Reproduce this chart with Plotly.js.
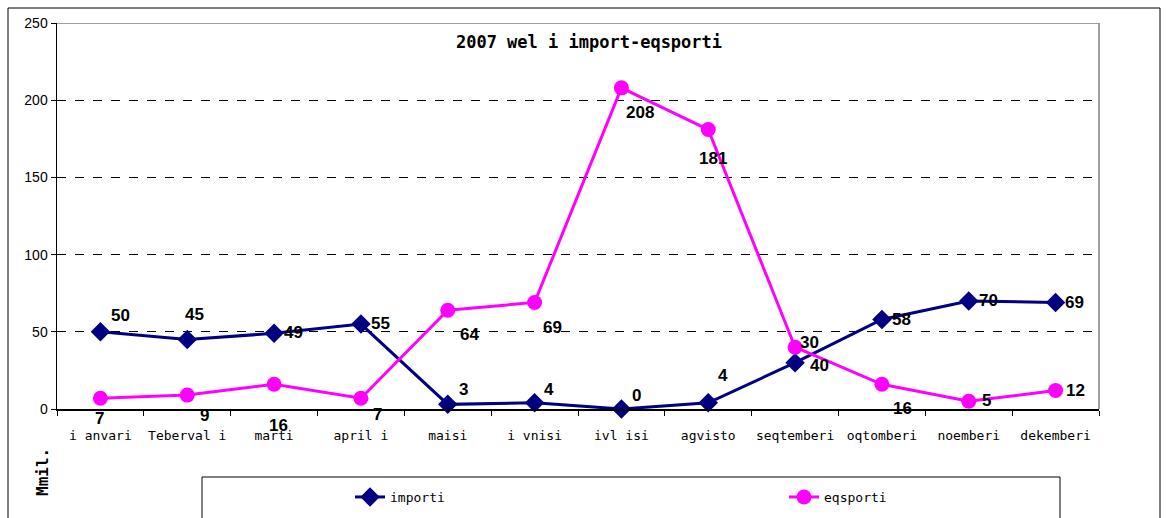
<!DOCTYPE html>
<html>
<head>
<meta charset="utf-8">
<script src="https://cdn.plot.ly/plotly-3.0.1.min.js"></script>
<style>html,body{margin:0;padding:0;background:#fff;}#chart{width:1168px;height:518px;}</style>
</head>
<body>
<div id="chart"></div>
<script>
const months = ['i anvari','Teberval i','marti','april i','maisi','i vnisi','ivl isi','agvisto','seqtemberi','oqtomberi','noemberi','dekemberi'];
const importi = [50,45,49,55,3,4,0,4,30,58,70,69];
const eqsporti = [7,9,16,7,64,69,208,181,40,16,5,12];
const yTicks = [0,50,100,150,200,250];
const titleText = '2007 wel i import-eqsporti';
const yTitle = 'Mmil.';

// label offsets in pixels (style only): [dx, dy] with dy positive = downward
const importOff = [[20,-16],[7,-25],[19,-1],[20,-1],[16,-15],[14,-13],[15,-14],[15,-27],[14,-20],[20,0],[20,0],[19,0]];
const exportOff = [[-1,20],[17,20],[4,41],[17,16],[22,24],[18,25],[19,25],[5,29],[24,18],[21,24],[18,-1],[20,0]];

const labelFont = {family:'Liberation Sans Narrow, Arial Narrow, Liberation Sans, Arial', size:17, color:'#000', weight:'bold'};
const mono = 'DejaVu Sans Mono, monospace';

const traces = [
  {x: months, y: importi, name: 'importi', type:'scatter', mode:'lines+markers', legend:'legend',
   line:{color:'#000080', width:3}, marker:{symbol:'diamond', size:15, color:'#000080'}, cliponaxis:false},
  {x: months, y: eqsporti, name: 'eqsporti', type:'scatter', mode:'lines+markers', legend:'legend2',
   line:{color:'#FF00FF', width:3}, marker:{symbol:'circle', size:15, color:'#FF00FF'}, cliponaxis:false}
];

const L = 57, R = 1099, T = 23, B = 409;
const px = v => (v - L) / (R - L);
const py = v => (B - v) / (B - T);

function labels(vals, off) {
  return vals.map((v, i) => ({
    x: months[i], y: v, xref:'x', yref:'y', text: String(v), showarrow:false,
    xshift: off[i][0], yshift: -off[i][1], xanchor:'center', yanchor:'middle', font: labelFont
  }));
}

const legendBase = {orientation:'h', xanchor:'left', y:py(497), yanchor:'middle',
  bgcolor:'rgba(0,0,0,0)', borderwidth:0, font:{family:mono, size:13, color:'#000'}};

const layout = {
  width:1168, height:518,
  margin:{l:L, r:1168-R, t:T, b:518-B, autoexpand:false},
  paper_bgcolor:'#fff', plot_bgcolor:'#fff',
  showlegend:true,
  title:{text:titleText, font:{family:mono, size:17, color:'#000', weight:'bold'},
         x:px(589), xref:'paper', xanchor:'center', y:1-42/518, yanchor:'middle'},
  xaxis:{type:'category', tickson:'boundaries', ticks:'outside', ticklen:5, tickcolor:'#000',
         showline:true, linecolor:'#000', linewidth:1.5, showgrid:false, automargin:false,
         tickangle:0, tickfont:{family:mono, size:13, color:'#000'}, ticklabelstandoff:14,
         range:[-0.5, 11.5], fixedrange:true},
  yaxis:{range:[0,250], tickvals:yTicks, ticks:'outside', ticklen:5, tickcolor:'#000', automargin:false,
         showline:true, linecolor:'#000', linewidth:1.5, zeroline:false,
         showgrid:true, gridcolor:'#000', gridwidth:1, griddash:'dash',
         tickfont:{family:'Liberation Sans, Arial', size:14, color:'#000'}, fixedrange:true},
  legend:Object.assign({x:px(350)}, legendBase),
  legend2:Object.assign({x:px(784)}, legendBase),
  shapes:[
    {type:'line', xref:'paper', yref:'y', x0:0, x1:1, y0:250, y1:250, line:{color:'#808080', width:1.5}, layer:'above'},
    {type:'line', xref:'paper', yref:'paper', x0:1, x1:1, y0:0, y1:1, line:{color:'#808080', width:1.5}, layer:'above'},
    {type:'rect', xref:'paper', yref:'paper', x0:px(202), x1:px(1060), y0:py(477), y1:py(530), line:{color:'#000', width:1}, fillcolor:'rgba(0,0,0,0)'},
    {type:'rect', xref:'paper', yref:'paper', x0:px(8), x1:px(1160), y0:py(8), y1:py(540), line:{color:'#000', width:1}, fillcolor:'rgba(0,0,0,0)'}
  ],
  annotations:[
    {text:yTitle, xref:'paper', yref:'paper', x:px(43), y:py(472), textangle:-90, showarrow:false,
     font:{family:mono, size:16, color:'#000', weight:'bold'}, xanchor:'center', yanchor:'middle'}
  ].concat(labels(importi, importOff), labels(eqsporti, exportOff))
};

Plotly.newPlot('chart', traces, layout, {staticPlot:true, displayModeBar:false});
</script>
</body>
</html>
